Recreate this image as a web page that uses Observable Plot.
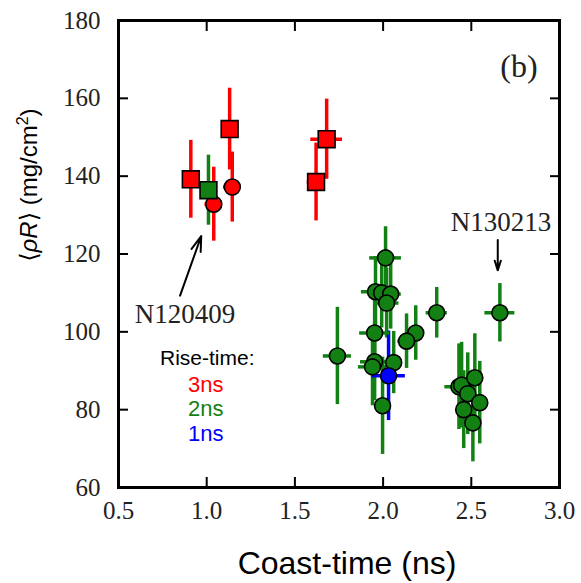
<!DOCTYPE html>
<html><head><meta charset="utf-8">
<script src="https://cdn.jsdelivr.net/npm/d3@7"></script>
<script src="https://cdn.jsdelivr.net/npm/@observablehq/plot@0.6"></script>
<style>body{margin:0;background:#fff}</style>
</head><body><div id="chart"></div>
<script>
// ---- data ----
const coastTime = [0.91, 1.13, 1.62, 1.68, 1.04, 1.145, 1.01,
  2.014, 1.957, 1.992, 2.043, 2.020, 2.304, 2.662, 1.952, 2.185, 2.133, 1.741, 1.952, 1.940, 2.060, 1.997,
  2.430, 2.445, 2.520, 2.480, 2.548, 2.457, 2.509,
  2.031];
const rhoR = [139.2, 152.1, 138.5, 149.5, 132.8, 137.2, 136.4,
  119.0, 110.3, 110.0, 109.7, 107.4, 104.9, 104.9, 99.7, 99.7, 97.6, 93.8, 92.3, 91.0, 92.1, 81.0,
  85.9, 86.3, 88.2, 84.1, 81.8, 80.0, 76.6,
  88.7];
const coastErr = [0.03, 0.03, 0.05, 0.09, 0.05, 0.05, 0.03,
  0.09, 0.08, 0.06, 0.06, 0.07, 0.06, 0.085, 0.085, 0.05, 0.05, 0.08, 0.08, 0.08, 0.05, 0.03,
  0.08, 0.04, 0.04, 0.04, 0.04, 0.04, 0.04,
  0.095];
const rhoRErr = [10, 10.5, 10, 10.3, 9.5, 9, 9,
  8, 9, 9, 9, 9, 6.5, 7.5, 9, 7, 7, 12.5, 10, 10, 8, 12.5,
  11, 11, 11.3, 10.5, 10.6, 10, 10,
  11.5];
const riseTime = ["3ns","3ns","3ns","3ns","3ns","3ns","2ns",
  "2ns","2ns","2ns","2ns","2ns","2ns","2ns","2ns","2ns","2ns","2ns","2ns","2ns","2ns","2ns",
  "2ns","2ns","2ns","2ns","2ns","2ns","2ns",
  "1ns"];
const markerShape = ["square","square","square","square","circle","circle","square",
  "circle","circle","circle","circle","circle","circle","circle","circle","circle","circle","circle","circle","circle","circle","circle",
  "circle","circle","circle","circle","circle","circle","circle",
  "circle"];

const xTicks = [0.5, 1.0, 1.5, 2.0, 2.5, 3.0];
const yTicks = [60, 80, 100, 120, 140, 160, 180];

const legendTitle = "Rise-time:";
const legendLabels = ["3ns", "2ns", "1ns"];
const riseColors = {"3ns": "#ff0000", "2ns": "#138013", "1ns": "#0000ff"};

const annoLabels = ["N120409", "N130213"];
const annoX = [0.877, 2.668];
const annoY = [104.6, 128.1];
const arrowX1 = [0.849, 2.650];
const arrowY1 = [109.3, 123.6];
const arrowX2 = [0.969, 2.650];
const arrowY2 = [124.6, 115.8];

const xTitle = "Coast-time (ns)";
const yTitle = "\u27E8\u03C1R\u27E9 (mg/cm2)";
const yTitleAt = 137.7;
const panelLabel = "(b)";

// ---- build tables ----
const rows = coastTime.map((t, i) => ({
  t, r: rhoR[i], te: coastErr[i], re: rhoRErr[i], rise: riseTime[i], shape: markerShape[i]
}));
const legendText = legendLabels.join("\n");
const annoRows = annoLabels.map((l, i) => ({label: l, x: annoX[i], y: annoY[i],
  x1: arrowX1[i], y1: arrowY1[i], x2: arrowX2[i], y2: arrowY2[i]}));

const serif = "'Liberation Serif', 'DejaVu Serif', serif";
const sans = "'Liberation Sans', Arial, 'DejaVu Sans', sans-serif";

const chart = Plot.plot({
  width: 581,
  height: 583,
  marginLeft: 118,
  marginRight: 22,
  marginTop: 20,
  marginBottom: 96,
  style: {background: "#fff"},
  x: {domain: [0.5, 3.0]},
  y: {domain: [60, 180]},
  marks: [
    Plot.ruleX(rows, {x: "t", y1: d => d.r - d.re, y2: d => d.r + d.re,
      stroke: d => riseColors[d.rise], strokeWidth: 3.5}),
    Plot.ruleY(rows, {y: "r", x1: d => d.t - d.te, x2: d => d.t + d.te,
      stroke: d => riseColors[d.rise], strokeWidth: 3.5}),
    Plot.dot(rows.filter(d => d.shape === "circle"), {x: "t", y: "r", r: 8, symbol: "circle",
      fill: d => riseColors[d.rise], stroke: "black", strokeWidth: 1.6}),
    Plot.dot(rows.filter(d => d.shape === "square"), {x: "t", y: "r", r: 9.5, symbol: "square",
      fill: d => riseColors[d.rise], stroke: "black", strokeWidth: 1.6}),
    Plot.axisX(xTicks, {anchor: "bottom", tickSize: -10, tickPadding: 24, strokeWidth: 2,
      tickFormat: d3.format(".1f"), fontFamily: serif, fontSize: 25, label: null, fill: "#222"}),
    Plot.axisX(xTicks, {anchor: "top", tickSize: -10, strokeWidth: 2, tickFormat: () => "", label: null}),
    Plot.axisY(yTicks, {anchor: "left", tickSize: -10, tickPadding: 28, strokeWidth: 2,
      fontFamily: serif, fontSize: 25, label: null, fill: "#222"}),
    Plot.axisY(yTicks, {anchor: "right", tickSize: -10, strokeWidth: 2, tickFormat: () => "", label: null}),
    Plot.frame({stroke: "black", strokeWidth: 3}),
    Plot.text([panelLabel], {x: 2.77, y: 168.2, fontFamily: serif, fontSize: 32, fill: "#222"}),
    Plot.arrow(annoRows, {x1: "x1", y1: "y1", x2: "x2", y2: "y2", stroke: "black",
      strokeWidth: 2, headLength: 12, headAngle: 35}),
    Plot.text(annoRows, {x: "x", y: "y", text: "label", fontFamily: serif, fontSize: 27, fill: "#222"}),
    Plot.text([legendTitle], {x: 1.003, y: 93.1, fontFamily: sans, fontSize: 21, fill: "black"}),
    Plot.text([legendText], {x: 0.994, y: 80.3, fontFamily: sans, fontSize: 22, lineHeight: 1.11,
      fill: "black", ariaLabel: "rise-time legend"}),
    Plot.text([xTitle], {frameAnchor: "bottom", dx: 8, dy: 86, fontFamily: sans, fontSize: 32, fill: "black"}),
    Plot.text([yTitle], {x: () => 0.5, y: () => yTitleAt, dx: -89, rotate: -90,
      fontFamily: sans, fontSize: 24, fill: "black", ariaLabel: "y title"})
  ]
});

// colour each legend line with its rise-time colour
chart.querySelectorAll("text tspan").forEach(ts => {
  const c = riseColors[ts.textContent];
  if (c) ts.setAttribute("fill", c);
});

// rich text for the y title: italic ρR and superscript 2
chart.querySelectorAll("text").forEach(el => {
  if (el.textContent === yTitle) {
    const ns = "http://www.w3.org/2000/svg";
    while (el.firstChild) el.removeChild(el.firstChild);
    el.setAttribute("text-anchor", "middle");
    const parts = [
      {t: "\u27E8"},
      {t: "\u03C1R", italic: true},
      {t: "\u27E9 (mg/cm"},
      {t: "2", sup: true},
      {t: ")", down: true}
    ];
    parts.forEach(p => {
      const ts = document.createElementNS(ns, "tspan");
      ts.textContent = p.t;
      if (p.italic) ts.setAttribute("font-style", "italic");
      if (p.sup) { ts.setAttribute("font-size", "16"); ts.setAttribute("dy", "-9"); }
      if (p.down) ts.setAttribute("dy", "9");
      el.appendChild(ts);
    });
  }
});

document.getElementById("chart").appendChild(chart);
</script>
</body></html>
